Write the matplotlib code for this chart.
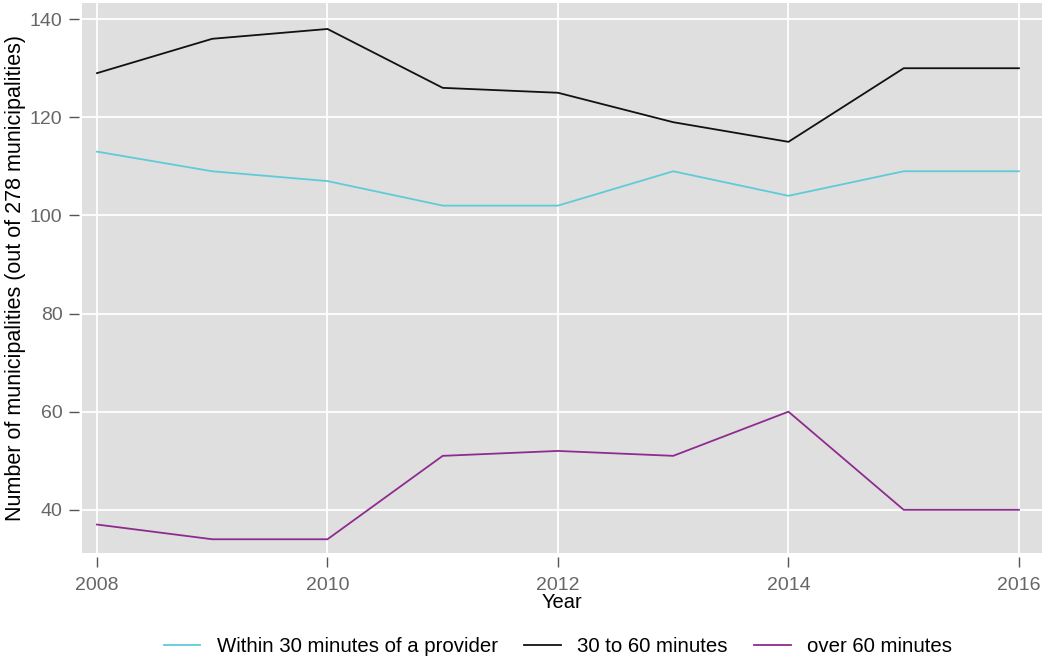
import matplotlib
matplotlib.use('Agg')
import matplotlib.pyplot as plt

plt.rcParams['font.family'] = ['Liberation Sans', 'DejaVu Sans']

years = [2008, 2009, 2010, 2011, 2012, 2013, 2014, 2015, 2016]
within_30 = [113, 109, 107, 102, 102, 109, 104, 109, 109]
from_30_to_60 = [129, 136, 138, 126, 125, 119, 115, 130, 130]
over_60 = [37, 34, 34, 51, 52, 51, 60, 40, 40]

fig = plt.figure(figsize=(10.49, 6.61), dpi=100)
ax = fig.add_axes([0.0782, 0.1634, 0.9151, 0.8321])
ax.set_facecolor('#e0dfdf')

ax.plot(years, within_30, color='#5ecbd8', lw=1.3, label='Within 30 minutes of a provider')
ax.plot(years, from_30_to_60, color='#111111', lw=1.3, label='30 to 60 minutes')
ax.plot(years, over_60, color='#8e2b90', lw=1.3, label='over 60 minutes')

ax.set_xlim(2007.87, 2016.2)
ax.set_ylim(31.2, 143.3)
ax.set_xticks([2008, 2010, 2012, 2014, 2016])
ax.set_yticks([40, 60, 80, 100, 120, 140])
ax.grid(True, color='white', lw=1.3)
ax.set_axisbelow(True)

for s in ax.spines.values():
    s.set_visible(False)
ax.spines['left'].set_position(('outward', 2))
ax.spines['bottom'].set_position(('outward', 3))
ax.tick_params(axis='both', direction='out', length=7, width=1, color='#555555',
               labelcolor='#666666', labelsize=14)
ax.tick_params(axis='y', pad=5)
ax.tick_params(axis='x', pad=7.5)

ax.set_xlabel('Year', fontsize=14.5, labelpad=-1)
ax.set_ylabel('Number of municipalities (out of 278 municipalities)', fontsize=15.5, labelpad=3)

fig.legend(loc='lower center', bbox_to_anchor=(0.532, -0.02), ncol=3, frameon=False,
           fontsize=14.7, handlelength=1.8, handletextpad=0.8, columnspacing=1.3)

fig.savefig('out.png', dpi=100)
